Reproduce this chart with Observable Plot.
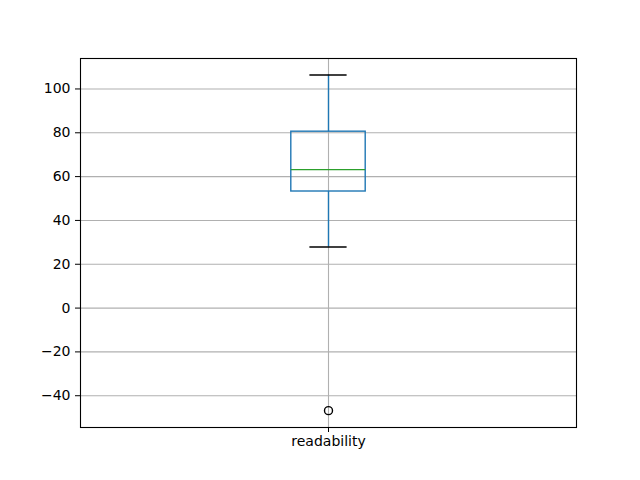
<!DOCTYPE html>
<html>
<head>
<meta charset="utf-8">
<script src="https://cdn.jsdelivr.net/npm/d3@7"></script>
<script src="https://cdn.jsdelivr.net/npm/@observablehq/plot@0.6"></script>
<style>
  html, body { margin: 0; padding: 0; background: #fff; }
</style>
</head>
<body>
<div id="chart"></div>
<script>
// Data
const categories = ["readability"];
const positions = [1];
const whiskerLow = [27.9];
const q1 = [53.2];
const median = [63.2];
const q3 = [80.5];
const whiskerHigh = [106.4];
const outliers = [-46.8];
const yTicks = [-40, -20, 0, 20, 40, 60, 80, 100];

const boxWidth = 0.15;
const stats = positions.map((p, i) => ({
  cat: categories[i], pos: p,
  lo: whiskerLow[i], q1: q1[i], med: median[i], q3: q3[i], hi: whiskerHigh[i]
}));
const outlierData = outliers.map(v => ({pos: positions[0], v}));

const fmt = d => d < 0 ? "\u2212" + Math.abs(d) : String(d);

const chart = Plot.plot({
  width: 640,
  height: 480,
  marginLeft: 80,
  marginRight: 64,
  marginTop: 58,
  marginBottom: 53,
  style: {fontFamily: "DejaVu Sans", fontSize: "14px", color: "black", background: "white"},
  x: {domain: [0.5, 1.5]},
  y: {domain: [-54.5, 113.9]},
  marks: [
    Plot.gridY(yTicks, {stroke: "#b0b0b0", strokeOpacity: 1, strokeWidth: 1.1}),
    Plot.gridX(positions, {stroke: "#b0b0b0", strokeOpacity: 1, strokeWidth: 1.1}),
    Plot.ruleX(stats, {x: "pos", y1: "q3", y2: "hi", stroke: "#1f77b4", strokeWidth: 1.4}),
    Plot.ruleX(stats, {x: "pos", y1: "lo", y2: "q1", stroke: "#1f77b4", strokeWidth: 1.4}),
    Plot.rect(stats, {x1: d => d.pos - boxWidth / 2, x2: d => d.pos + boxWidth / 2, y1: "q1", y2: "q3", fill: "none", stroke: "#1f77b4", strokeWidth: 1.4}),
    Plot.ruleY(stats, {y: "med", x1: d => d.pos - boxWidth / 2, x2: d => d.pos + boxWidth / 2, stroke: "#2ca02c", strokeWidth: 1.4}),
    Plot.ruleY(stats, {y: "hi", x1: d => d.pos - boxWidth / 4, x2: d => d.pos + boxWidth / 4, stroke: "black", strokeWidth: 1.4}),
    Plot.ruleY(stats, {y: "lo", x1: d => d.pos - boxWidth / 4, x2: d => d.pos + boxWidth / 4, stroke: "black", strokeWidth: 1.4}),
    Plot.dot(outlierData, {x: "pos", y: "v", r: 4, stroke: "black", fill: "none", strokeWidth: 1.4}),
    Plot.frame({stroke: "black", strokeWidth: 1.1}),
    Plot.axisY(yTicks, {tickFormat: fmt, tickSize: 5, tickPadding: 5, label: null, fontSize: 14}),
    Plot.axisX(positions, {tickFormat: (d, i) => categories[i], tickSize: 5, tickPadding: 4, label: null, fontSize: 14})
  ]
});
document.getElementById("chart").appendChild(chart);
</script>
</body>
</html>
